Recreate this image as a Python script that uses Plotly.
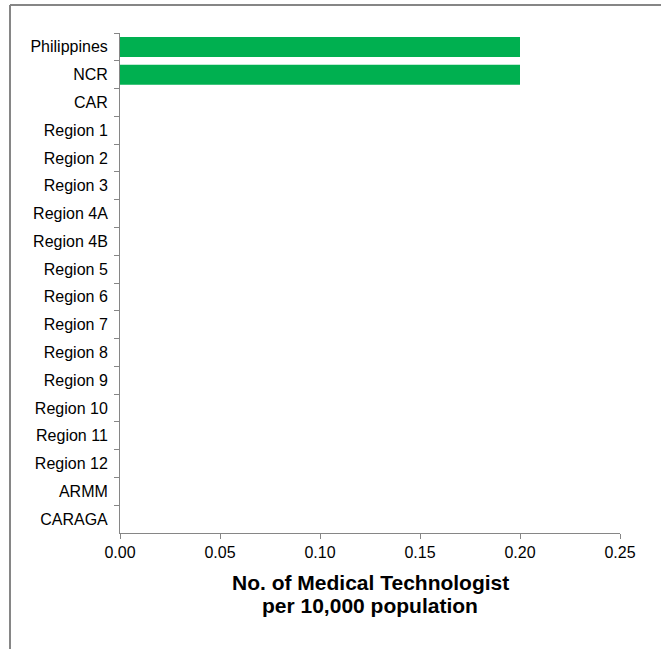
import plotly.graph_objects as go

regions = ["Philippines", "NCR", "CAR", "Region 1", "Region 2", "Region 3", "Region 4A",
           "Region 4B", "Region 5", "Region 6", "Region 7", "Region 8", "Region 9",
           "Region 10", "Region 11", "Region 12", "ARMM", "CARAGA"]
values = [0.20, 0.20, 0, 0, 0, 0, 0, 0, 0, 0, 0, 0, 0, 0, 0, 0, 0, 0]
x_ticks = [0.00, 0.05, 0.10, 0.15, 0.20, 0.25]
title_lines = ["No. of Medical Technologist", "per 10,000 population"]

fig = go.Figure(go.Bar(
    x=values, y=regions, orientation="h",
    marker=dict(color="#00B050", line=dict(width=0)),
    width=0.72,
))

L, R, T, B = 120, 41, 33, 116
W, H = 661, 649
pw, ph = W - L - R, H - T - B

annotations = []
for i, line in enumerate(title_lines):
    annotations.append(dict(
        text=f"<b>{line}</b>", xref="paper", yref="paper", x=0.5, y=-(49 + 23 * i) / ph,
        xanchor="center", yanchor="middle", showarrow=False, font=dict(size=21),
    ))

fig.update_layout(
    width=W, height=H,
    margin=dict(l=L, r=R, t=T, b=B, autoexpand=False),
    paper_bgcolor="white", plot_bgcolor="white",
    font=dict(family="Liberation Sans, Arial, sans-serif", size=16, color="black"),
    showlegend=False,
    bargap=0.28,
    xaxis=dict(
        range=[0, 0.25], tickvals=x_ticks, ticktext=[f"{v:.2f}" for v in x_ticks],
        showgrid=False, zeroline=False, showline=True, linecolor="#868686", linewidth=1,
        ticks="outside", ticklen=5, tickcolor="#868686", automargin=False,
    ),
    yaxis=dict(
        categoryorder="array", categoryarray=regions, autorange="reversed",
        showgrid=False, zeroline=False, showline=True, linecolor="#868686", linewidth=1,
        ticks="outside", ticklen=5, tickcolor="#868686", tickson="boundaries",
        ticklabelstandoff=8, automargin=False,
    ),
    annotations=annotations,
    shapes=[
        dict(type="line", xref="paper", yref="paper",
             x0=(10 - L) / pw, x1=(W + 20 - L) / pw,
             y0=1 + (T - 5) / ph, y1=1 + (T - 5) / ph,
             line=dict(color="#868686", width=2), layer="above"),
        dict(type="line", xref="paper", yref="paper",
             x0=(10 - L) / pw, x1=(10 - L) / pw,
             y0=-(B + 20) / ph, y1=1 + (T - 5) / ph,
             line=dict(color="#868686", width=2), layer="above"),
    ],
)

fig.write_html("out.html", config={"displayModeBar": False},
               post_script="document.body.style.margin='0';document.body.style.padding='0';")
